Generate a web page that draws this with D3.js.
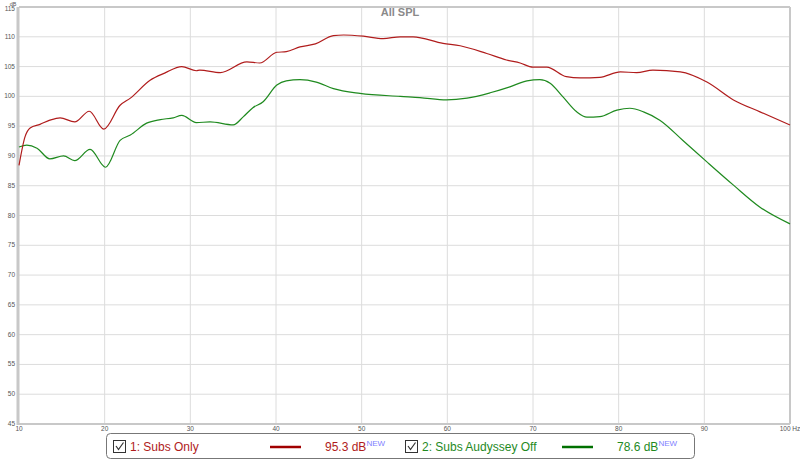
<!DOCTYPE html>
<html><head><meta charset="utf-8">
<script src="https://cdn.jsdelivr.net/npm/d3@7"></script>
<style>body{margin:0;background:#fff}svg{display:block;font-family:"Liberation Sans",Arial,sans-serif}</style>
</head><body><svg id="c" width="800" height="461"></svg>
<script>
const xTicks=[10,20,30,40,50,60,70,80,90,100];
const yTicks=[45,50,55,60,65,70,75,80,85,90,95,100,105,110,115];
const redFreq=[10,10.7,11.3,12.45,13.6,14.8,16.5,18.2,19.9,21.8,23,25.3,27,29,30.7,31.1,33.5,36.6,38.1,40.1,41.2,42.8,44.6,46.7,47.9,50.2,52.5,54.5,56,59.5,61.5,64.6,66.9,68.5,70,71.6,73.9,75.5,77.8,80.2,82.1,84,87.2,90.3,93.4,96.5,100];
const redDb=[88.4,93.2,94.7,95.3,96.0,96.4,95.7,97.5,94.5,98.5,99.7,102.7,103.9,105.0,104.3,104.4,104.0,105.8,105.6,107.4,107.5,108.3,108.8,110.2,110.3,110.1,109.7,110.0,110.0,108.9,108.5,107.2,106.1,105.6,104.9,104.9,103.3,103.1,103.2,104.1,104.0,104.4,104.1,102.4,99.4,97.4,95.2];
const greenFreq=[10,10.9,12.1,13.6,15.2,16.5,18.3,20.1,21.8,23,24.9,26.5,28,29,30.7,32.3,35,36.2,37.3,38.5,40.1,41.2,42.8,44.7,46.7,49.8,54.5,56.8,59.9,62.3,65,67.3,69.3,70.8,72,73.5,75.1,76.3,77.8,79.8,81.3,82.9,84.8,87.5,90.3,93.4,96.5,100];
const greenDb=[91.5,91.8,91.3,89.5,90.0,89.2,91.1,88.1,92.6,93.5,95.5,96.1,96.4,96.8,95.6,95.7,95.2,96.6,98.1,99.1,101.9,102.6,102.8,102.4,101.3,100.5,100.0,99.8,99.4,99.7,100.6,101.6,102.6,102.8,102.2,99.9,97.4,96.5,96.6,97.7,98.0,97.4,96.0,92.6,89.0,85.1,81.4,78.6];
const seriesNames=["1: Subs Only","2: Subs Audyssey Off"];
const seriesValues=["95.3 dB","78.6 dB"];
const colors=["#b01c1c","#1f8a1f"];
const legendLineColors=["#a00000","#007000"];

const svg=d3.select("#c");
const L=19,R=790,T=7,B=424;
const x=d3.scaleLinear().domain([10,100]).range([L,R]);
const y=d3.scaleLinear().domain([45,115]).range([B,T]);

// grid
svg.append("g").selectAll("line").data(yTicks).join("line")
 .attr("x1",L).attr("x2",R).attr("y1",d=>y(d)).attr("y2",d=>y(d))
 .attr("stroke","#dcdcdc").attr("stroke-width",1);
svg.append("g").selectAll("line").data(xTicks.slice(1,-1)).join("line")
 .attr("x1",d=>x(d)).attr("x2",d=>x(d)).attr("y1",T).attr("y2",B)
 .attr("stroke","#dcdcdc").attr("stroke-width",1);
// frame
svg.append("line").attr("x1",L).attr("x2",R).attr("y1",T).attr("y2",T).attr("stroke","#c8c8c8").attr("stroke-width",2);
svg.append("line").attr("x1",R).attr("x2",R).attr("y1",T).attr("y2",B).attr("stroke","#c8c8c8").attr("stroke-width",2);
svg.append("line").attr("x1",L).attr("x2",R).attr("y1",B).attr("y2",B).attr("stroke","#c8c8c8").attr("stroke-width",2);
svg.append("line").attr("x1",L-1).attr("x2",L-1).attr("y1",T).attr("y2",B+1).attr("stroke","#c8c8c8").attr("stroke-width",3);

// tick labels
svg.append("g").selectAll("text").data(yTicks).join("text")
 .attr("x",15).attr("y",d=>y(d)+(d===115?4:2)).attr("text-anchor","end")
 .attr("font-size",6.5).attr("fill","#555").text(d=>d);
svg.append("g").selectAll("text").data(xTicks).join("text")
 .attr("x",d=>x(d)).attr("y",431).attr("text-anchor","middle")
 .attr("font-size",6.5).attr("fill","#555").text(d=>d===100?"100 Hz":d);
svg.append("text").attr("x",13).attr("y",5.5).attr("text-anchor","middle").attr("font-size",5.5).attr("fill","#555").text("dB");
svg.append("text").attr("x",400).attr("y",16).attr("text-anchor","middle").attr("font-size",11).attr("font-weight","bold").attr("fill","#8a8a8a").text("All SPL");

const line=d3.line().x(d=>x(d[0])).y(d=>y(d[1])).curve(d3.curveMonotoneX);
svg.append("path").datum(greenFreq.map((f,i)=>[f,greenDb[i]])).attr("d",line).attr("fill","none").attr("stroke",colors[1]).attr("stroke-width",1.2);
svg.append("path").datum(redFreq.map((f,i)=>[f,redDb[i]])).attr("d",line).attr("fill","none").attr("stroke",colors[0]).attr("stroke-width",1.2);

// legend
const lg=svg.append("g");
lg.append("rect").attr("x",106.5).attr("y",433.5).attr("width",588).attr("height",25).attr("rx",4).attr("fill","#fff").attr("stroke","#777");
const lx=[113,405];
[0,1].forEach(i=>{
 const g=lg.append("g").attr("transform",`translate(${lx[i]},0)`);
 g.append("rect").attr("x",0.5).attr("y",440.5).attr("width",12).attr("height",12).attr("fill","#fff").attr("stroke","#333");
 g.append("path").attr("d","M3,446 L5.5,449.5 L10.5,442.5").attr("fill","none").attr("stroke","#333").attr("stroke-width",1.2);
 g.append("text").attr("x",17).attr("y",451).attr("font-size",12).attr("fill",colors[i]).text(seriesNames[i]);
 g.append("line").attr("x1",157).attr("x2",188).attr("y1",447).attr("y2",447).attr("stroke",legendLineColors[i]).attr("stroke-width",2.5);
 const t=g.append("text").attr("x",212).attr("y",451).attr("font-size",12).attr("fill",colors[i]);
 t.append("tspan").text(seriesValues[i]);
 t.append("tspan").attr("dy",-5).attr("font-size",8).attr("fill","#8080ff").text("NEW");
});
</script></body></html>
